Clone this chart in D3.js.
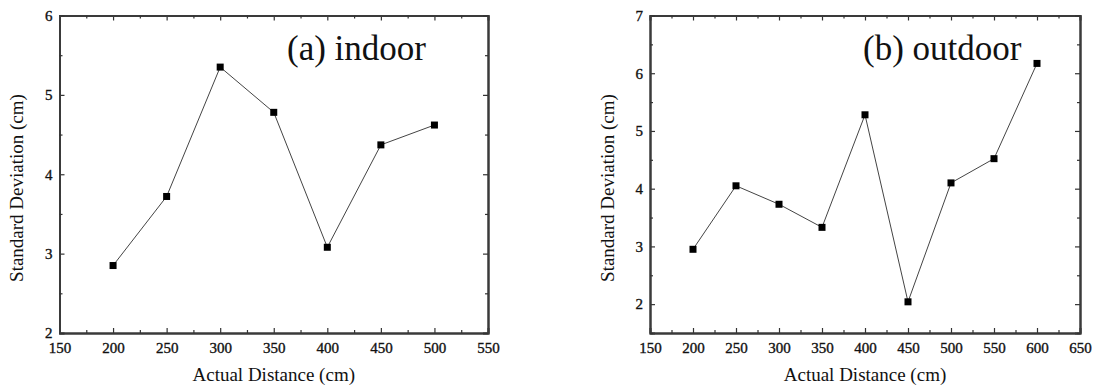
<!DOCTYPE html>
<html><head><meta charset="utf-8">
<script src="https://cdn.jsdelivr.net/npm/d3@7"></script>
<style>
body{margin:0;background:#fff;}
svg{display:block;}
svg text{font-family:"Liberation Serif","Times New Roman",serif !important;fill:#111;}
</style></head>
<body>
<script>
// ---- data ----
const indoorDist = [200,250,300,350,400,450,500];
const indoorStd  = [2.85,3.72,5.35,4.78,3.08,4.37,4.62];
const outdoorDist = [200,250,300,350,400,450,500,550,600];
const outdoorStd  = [2.95,4.05,3.73,3.33,5.28,2.04,4.10,4.52,6.17];
const xTicksA = [150,200,250,300,350,400,450,500,550];
const yTicksA = [2,3,4,5,6];
const xTicksB = [150,200,250,300,350,400,450,500,550,600,650];
const yTicksB = [2,3,4,5,6,7];
const titleA = "(a) indoor", titleB = "(b) outdoor";
const xLabel = "Actual Distance (cm)", yLabel = "Standard Deviation (cm)";

const W=1094,H=390;
const SERIF="'Liberation Serif','Times New Roman',serif";
const svg=d3.select("body").append("svg").attr("width",W).attr("height",H)
  .style("font-family",SERIF);

function panel(cfg){
  const g=svg.append("g");
  const x=d3.scaleLinear().domain(cfg.xDom).range(cfg.xRange);
  const y=d3.scaleLinear().domain(cfg.yDom).range(cfg.yRange);
  const [x0,x1]=cfg.xRange,[y0,y1]=cfg.yRange;
  const xMinor=d3.range(cfg.xDom[0]+25,cfg.xDom[1],50);
  const yMinor=d3.range(cfg.yDom[0],cfg.yDom[1]+1e-9,0.5).filter(v=>Math.abs(v-Math.round(v))>1e-6);
  const style=s=>{s.attr("font-family",null).attr("font-size",null);
    s.selectAll("path").attr("stroke","#3a3a3a").attr("stroke-width",2);
    s.selectAll("line").attr("stroke","#333").attr("stroke-width",1.2);
    s.selectAll("text").style("font-size","15px").style("font-family",SERIF)
      .attr("fill","#111").attr("stroke","#111").attr("stroke-width",0.35);};
  g.append("g").attr("transform",`translate(0,${y0})`)
    .call(d3.axisBottom(x).tickValues(cfg.xTicks).tickSize(-5).tickPadding(9).tickFormat(d3.format("d"))).call(style);
  g.append("g").attr("transform",`translate(0,${y0})`)
    .call(d3.axisBottom(x).tickValues(xMinor).tickSize(-3).tickSizeOuter(0).tickFormat("")).call(style);
  g.append("g").attr("transform",`translate(0,${y1})`)
    .call(d3.axisTop(x).tickValues(cfg.xTicks).tickSize(-5).tickFormat("")).call(style);
  g.append("g").attr("transform",`translate(0,${y1})`)
    .call(d3.axisTop(x).tickValues(xMinor).tickSize(-3).tickSizeOuter(0).tickFormat("")).call(style);
  g.append("g").attr("transform",`translate(${x0},0)`)
    .call(d3.axisLeft(y).tickValues(cfg.yTicks).tickSize(-5).tickPadding(7).tickFormat(d3.format("d"))).call(style);
  g.append("g").attr("transform",`translate(${x0},0)`)
    .call(d3.axisLeft(y).tickValues(yMinor).tickSize(-3).tickSizeOuter(0).tickFormat("")).call(style);
  g.append("g").attr("transform",`translate(${x1},0)`)
    .call(d3.axisRight(y).tickValues(cfg.yTicks).tickSize(-5).tickFormat("")).call(style);
  g.append("g").attr("transform",`translate(${x1},0)`)
    .call(d3.axisRight(y).tickValues(yMinor).tickSize(-3).tickSizeOuter(0).tickFormat("")).call(style);

  const pts=cfg.xs.map((d,i)=>[d,cfg.ys[i]]);
  g.append("path").datum(pts).attr("fill","none").attr("stroke","#444").attr("stroke-width",1)
    .attr("d",d3.line().x(d=>x(d[0])).y(d=>y(d[1])));
  g.selectAll("rect.pt").data(pts).enter().append("rect").attr("class","pt")
    .attr("x",d=>x(d[0])-3.5).attr("y",d=>y(d[1])-3.5).attr("width",7).attr("height",7).attr("fill","#000");

  g.append("text").attr("x",(x0+x1)/2).attr("y",381).attr("text-anchor","middle")
    .style("font-size","19px").style("font-family",SERIF).text(xLabel);
  g.append("text").attr("transform",`translate(${cfg.yLabX},188) rotate(-90)`).attr("text-anchor","middle")
    .style("font-size","19px").style("font-family",SERIF).text(yLabel);
  g.append("text").attr("x",cfg.titleX).attr("y",60).style("font-size","35px").style("font-family",SERIF).text(cfg.title);
}

panel({xDom:[150,550],yDom:[2,6],xRange:[59.5,488],yRange:[333,15.5],xTicks:xTicksA,yTicks:yTicksA,
  xs:indoorDist,ys:indoorStd,title:titleA,titleX:287,yLabX:23});
panel({xDom:[150,650],yDom:[1.5,7],xRange:[650,1080],yRange:[333,15.5],xTicks:xTicksB,yTicks:yTicksB,
  xs:outdoorDist,ys:outdoorStd,title:titleB,titleX:863,yLabX:614});
</script>
</body></html>
